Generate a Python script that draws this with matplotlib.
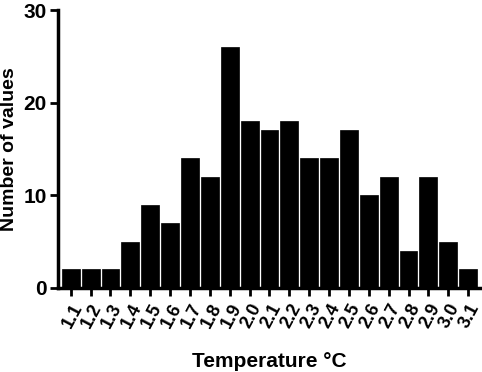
import numpy as np
import matplotlib
matplotlib.use("Agg")
import matplotlib.pyplot as plt

# histogram bins and counts
temps = ["1.1", "1.2", "1.3", "1.4", "1.5", "1.6", "1.7", "1.8", "1.9", "2.0",
         "2.1", "2.2", "2.3", "2.4", "2.5", "2.6", "2.7", "2.8", "2.9", "3.0", "3.1"]
counts = [2, 2, 2, 5, 9, 7, 14, 12, 26, 18, 17, 18, 14, 14, 17, 10, 12, 4, 12, 5, 2]
y_ticks = [0, 10, 20, 30]

plt.rcParams["font.family"] = ["Liberation Sans", "DejaVu Sans"]
plt.rcParams["font.weight"] = "bold"

fig = plt.figure(figsize=(4.82, 3.72), dpi=100)
ax = fig.add_axes([0.120, 0.226, 0.876, 0.747])

x = np.arange(len(temps))
ax.bar(x, counts, width=0.9, color="black", edgecolor="black", linewidth=0.5)

ax.set_xlim(-0.65, len(temps) - 0.4)
ax.set_ylim(0, 30)
ax.set_yticks(y_ticks)
ax.set_xticks(x)
ax.set_xticklabels(temps, rotation=62, ha="right", rotation_mode="anchor",
                   fontsize=13, fontweight="bold")
ax.tick_params(axis="y", labelsize=15, width=2, length=6, pad=2)
ax.tick_params(axis="x", width=2, length=6, pad=3)
for lbl in ax.get_yticklabels():
    lbl.set_fontweight("bold")

for side in ["top", "right"]:
    ax.spines[side].set_visible(False)
for side in ["left", "bottom"]:
    ax.spines[side].set_linewidth(2.5)

ax.set_ylabel("Number of values", fontsize=14, fontweight="bold", labelpad=4)
ax.set_xlabel("Temperature °C", fontsize=15, fontweight="bold", labelpad=15)

fig.savefig("out.png", dpi=100)
